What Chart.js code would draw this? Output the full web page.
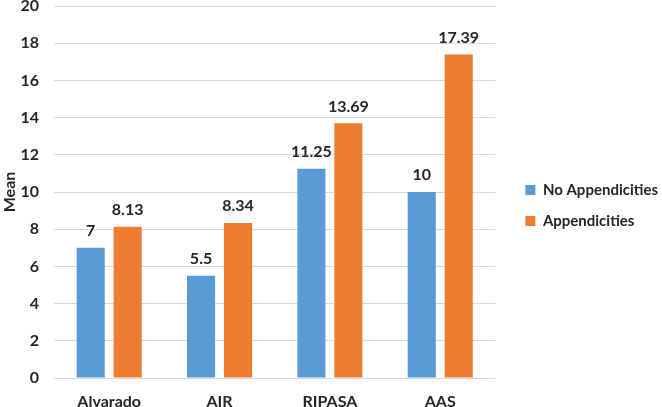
<!DOCTYPE html>
<html>
<head>
<meta charset="utf-8">
<script src="https://cdn.jsdelivr.net/npm/chart.js@4"></script>
<style>
  body { margin: 0; background: #fff; }
  #wrap { width: 662px; height: 407px; }
</style>
</head>
<body>
<div id="wrap"><canvas id="myChart" width="662" height="407"></canvas></div>
<script>
const categories = ['Alvarado', 'AIR', 'RIPASA', 'AAS'];
const noAppendicities = [7, 5.5, 11.25, 10];
const appendicities = [8.13, 8.34, 13.69, 17.39];
const yTicks = [0, 2, 4, 6, 8, 10, 12, 14, 16, 18, 20];

const fontFamily = 'Lato, "Open Sans", sans-serif';
const textColor = '#262626';

// draws the value above each bar (no datalabels plugin available offline)
const valueLabels = {
    id: 'valueLabels',
    afterDatasetsDraw(chart) {
        const ctx = chart.ctx;
        ctx.save();
        ctx.font = 'bold 16px ' + fontFamily;
        ctx.fillStyle = textColor;
        ctx.textAlign = 'center';
        ctx.textBaseline = 'middle';
        chart.data.datasets.forEach((ds, i) => {
            chart.getDatasetMeta(i).data.forEach((bar, j) => {
                ctx.fillText(String(ds.data[j]), bar.x, bar.y - 17);
            });
        });
        ctx.restore();
    }
};

// small nudge of the legend so it sits where the original has it
const legendShift = {
    id: 'legendShift',
    afterLayout(chart) {
        chart.legend.left += 14;
        chart.legend.right += 14;
        chart.legend.top += 2;
        chart.legend.bottom += 2;
    }
};

const ctx = document.getElementById('myChart').getContext('2d');
const myChart = new Chart(ctx, {
    type: 'bar',
    data: {
        labels: categories,
        datasets: [{
            label: 'No Appendicities',
            data: noAppendicities,
            backgroundColor: '#5B9BD5',
            categoryPercentage: 0.67,
            barPercentage: 0.76
        }, {
            label: 'Appendicities',
            data: appendicities,
            backgroundColor: '#ED7D31',
            categoryPercentage: 0.67,
            barPercentage: 0.76
        }]
    },
    options: {
        responsive: false,
        animation: false,
        layout: { padding: { top: 0, right: 8, bottom: 0, left: 0 } },
        plugins: {
            legend: {
                position: 'right',
                labels: {
                    boxWidth: 10,
                    boxHeight: 10,
                    padding: 16,
                    color: textColor,
                    font: { family: fontFamily, size: 15, weight: 'bold' }
                }
            },
            tooltip: { enabled: false }
        },
        scales: {
            x: {
                grid: { display: false, drawTicks: false },
                border: { display: false },
                ticks: {
                    color: textColor,
                    padding: 14,
                    font: { family: fontFamily, size: 16, weight: 'bold' }
                },
                afterFit(scale) {
                    scale.height = 29;
                    scale.paddingLeft = 0;
                    scale.paddingRight = 0;
                }
            },
            y: {
                min: 0,
                max: 20,
                afterBuildTicks(axis) {
                    axis.ticks = yTicks.map(v => ({ value: v }));
                },
                grid: { color: '#D9D9D9', lineWidth: 1, drawTicks: false },
                border: { display: false },
                title: {
                    display: true,
                    text: 'Mean',
                    color: textColor,
                    font: { family: fontFamily, size: 16, weight: 'bold' },
                    padding: { top: 0, bottom: 0 }
                },
                ticks: {
                    color: textColor,
                    padding: 15,
                    font: { family: fontFamily, size: 16, weight: 'bold' }
                },
                afterFit(scale) {
                    scale.width = 54;
                    scale.paddingTop = 6;
                    scale.paddingBottom = 0;
                }
            }
        }
    },
    plugins: [valueLabels, legendShift]
});
</script>
</body>
</html>
